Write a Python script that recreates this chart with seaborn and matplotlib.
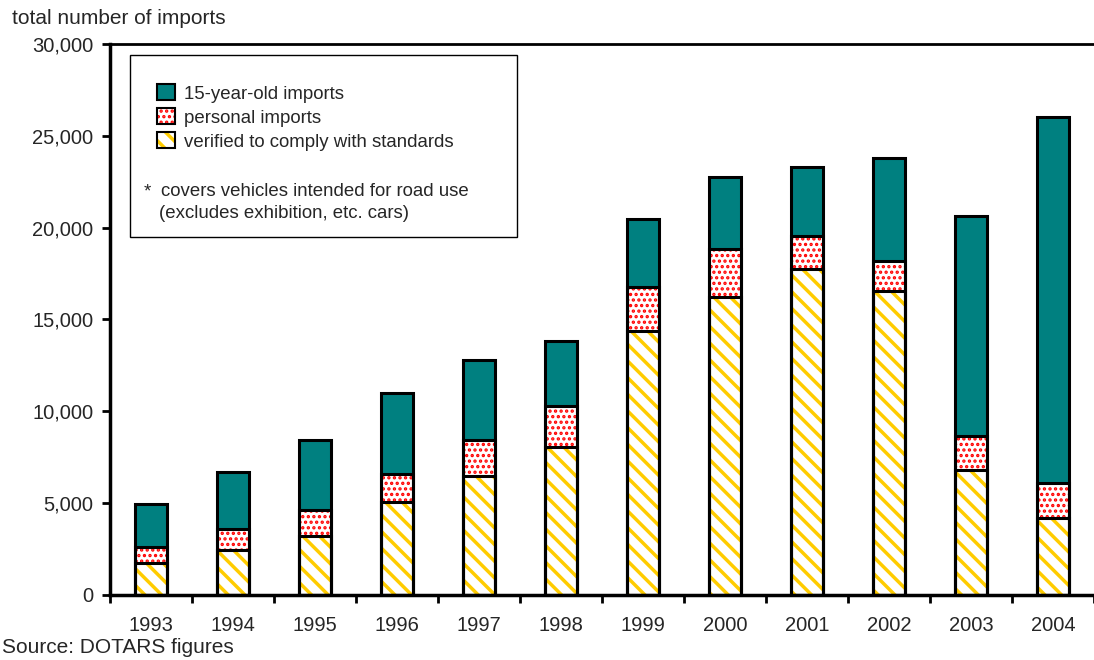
import numpy as np
import pandas as pd
import seaborn as sns
import matplotlib.pyplot as plt
from matplotlib.patches import Patch, Rectangle
from matplotlib.ticker import FuncFormatter

# data (vehicles per year)
years = ["1993", "1994", "1995", "1996", "1997", "1998",
         "1999", "2000", "2001", "2002", "2003", "2004"]
verified = [1750, 2440, 3200, 5040, 6490, 8080, 14360, 16240, 17740, 16570, 6810, 4210]
personal = [870, 1140, 1410, 1560, 1950, 2200, 2400, 2580, 1790, 1620, 1860, 1900]
fifteen_year = [2350, 3100, 3845, 4390, 4350, 3540, 3710, 3930, 3770, 5600, 11980, 19910]

legend_labels = ["15-year-old imports", "personal imports", "verified to comply with standards"]
note_lines = ["covers vehicles intended for road use", "(excludes exhibition, etc. cars)"]

TEAL = "#008080"
RED = "#FF0000"
YELLOW = "#FFCC00"

df = pd.DataFrame({"year": years, "verified": verified,
                   "personal": personal, "fifteen": fifteen_year})
df["cum_personal"] = df["verified"] + df["personal"]
df["total"] = df["cum_personal"] + df["fifteen"]

sns.set_style("white")
plt.rcParams["font.family"] = ["Liberation Sans", "DejaVu Sans"]
plt.rcParams["hatch.linewidth"] = 2.5

fig = plt.figure(figsize=(10.94, 6.6), dpi=100)
ax = fig.add_axes([0.1005, 0.0985, 0.8995, 0.835])

W = 0.4
DOTS = "..."


def set_hatch_lw(patches, lw):
    for p in patches:
        if hasattr(p, "set_hatch_linewidth"):
            p.set_hatch_linewidth(lw)


# stacked look: draw cumulative heights on top of each other
sns.barplot(data=df, x="year", y="total", color=TEAL, saturation=1,
            width=W, linewidth=0, ax=ax)
n0 = len(ax.patches)

with plt.rc_context({"hatch.linewidth": 1.6}):
    sns.barplot(data=df, x="year", y="cum_personal", color="white", saturation=1,
                width=W, linewidth=0, ax=ax)
for p in ax.patches[n0:]:
    p.set_facecolor("white")
    p.set_edgecolor(RED)
    p.set_linewidth(0)
    p.set_hatch(DOTS)
set_hatch_lw(ax.patches[n0:], 1.6)
n1 = len(ax.patches)

with plt.rc_context({"hatch.linewidth": 2.5}):
    sns.barplot(data=df, x="year", y="verified", color="white", saturation=1,
                width=W, linewidth=0, ax=ax)
for p in ax.patches[n1:]:
    p.set_facecolor("white")
    p.set_edgecolor(YELLOW)
    p.set_linewidth(0)
    p.set_hatch("\\\\")
set_hatch_lw(ax.patches[n1:], 2.5)

# black outlines for each segment
for col in ["total", "cum_personal", "verified"]:
    sns.barplot(data=df, x="year", y=col, fill=False, edgecolor="black",
                linewidth=2.2, width=W, ax=ax)

ax.set_xlim(-0.5, 11.5)
ax.set_ylim(0, 30000)
ax.set_yticks(np.arange(0, 30001, 5000))
ax.yaxis.set_major_formatter(FuncFormatter(lambda v, p: f"{int(v):,}"))
ax.set_xlabel("")
ax.set_ylabel("")

ax.set_xticks(np.arange(-0.5, 12, 1), minor=True)
ax.tick_params(axis="x", which="major", length=0, pad=15, labelsize=14.5)
ax.tick_params(axis="x", which="minor", length=6, width=2, direction="out",
               color="black", bottom=True)
ax.tick_params(axis="y", length=6, width=2, direction="out", left=True,
               pad=6, labelsize=14.5, color="black")

for side in ["left", "bottom"]:
    ax.spines[side].set_linewidth(2.5)
    ax.spines[side].set_color("black")
ax.spines["top"].set_linewidth(2)
ax.spines["top"].set_color("black")
ax.spines["right"].set_visible(False)

# legend box with note
ax.add_patch(Rectangle((0.0203, 0.650), 0.3933, 0.330, transform=ax.transAxes,
                       fill=False, edgecolor="black", linewidth=1, zorder=5))

h_teal = Patch(facecolor=TEAL, edgecolor="black", linewidth=1.5)
h_red = (Patch(facecolor="white", edgecolor=RED, linewidth=0, hatch=DOTS),
         Patch(facecolor="none", edgecolor="black", linewidth=1.5))
h_yel = (Patch(facecolor="white", edgecolor=YELLOW, linewidth=0, hatch="\\\\"),
         Patch(facecolor="none", edgecolor="black", linewidth=1.5))
leg = ax.legend([h_teal, h_red, h_yel], legend_labels, loc="upper left",
                bbox_to_anchor=(0.048, 0.927), frameon=False, fontsize=13.4,
                handlelength=0.95, handleheight=0.95, handletextpad=0.5,
                labelspacing=0.3, borderpad=0, borderaxespad=0)
for h in leg.legend_handles:
    if hasattr(h, "set_hatch_linewidth"):
        h.set_hatch_linewidth(1.6 if h.get_hatch() == DOTS else 2.5)

ax.text(0.034, 0.732, "*", transform=ax.transAxes, fontsize=13.4, va="center")
ax.text(0.052, 0.732, note_lines[0], transform=ax.transAxes, fontsize=13.4, va="center")
ax.text(0.050, 0.692, note_lines[1], transform=ax.transAxes, fontsize=13.4, va="center")

fig.text(0.011, 0.972, "total number of imports", fontsize=15, va="center")
fig.text(0.002, 0.019, "Source: DOTARS figures", fontsize=15, va="center")

fig.savefig("out.png", dpi=100)
